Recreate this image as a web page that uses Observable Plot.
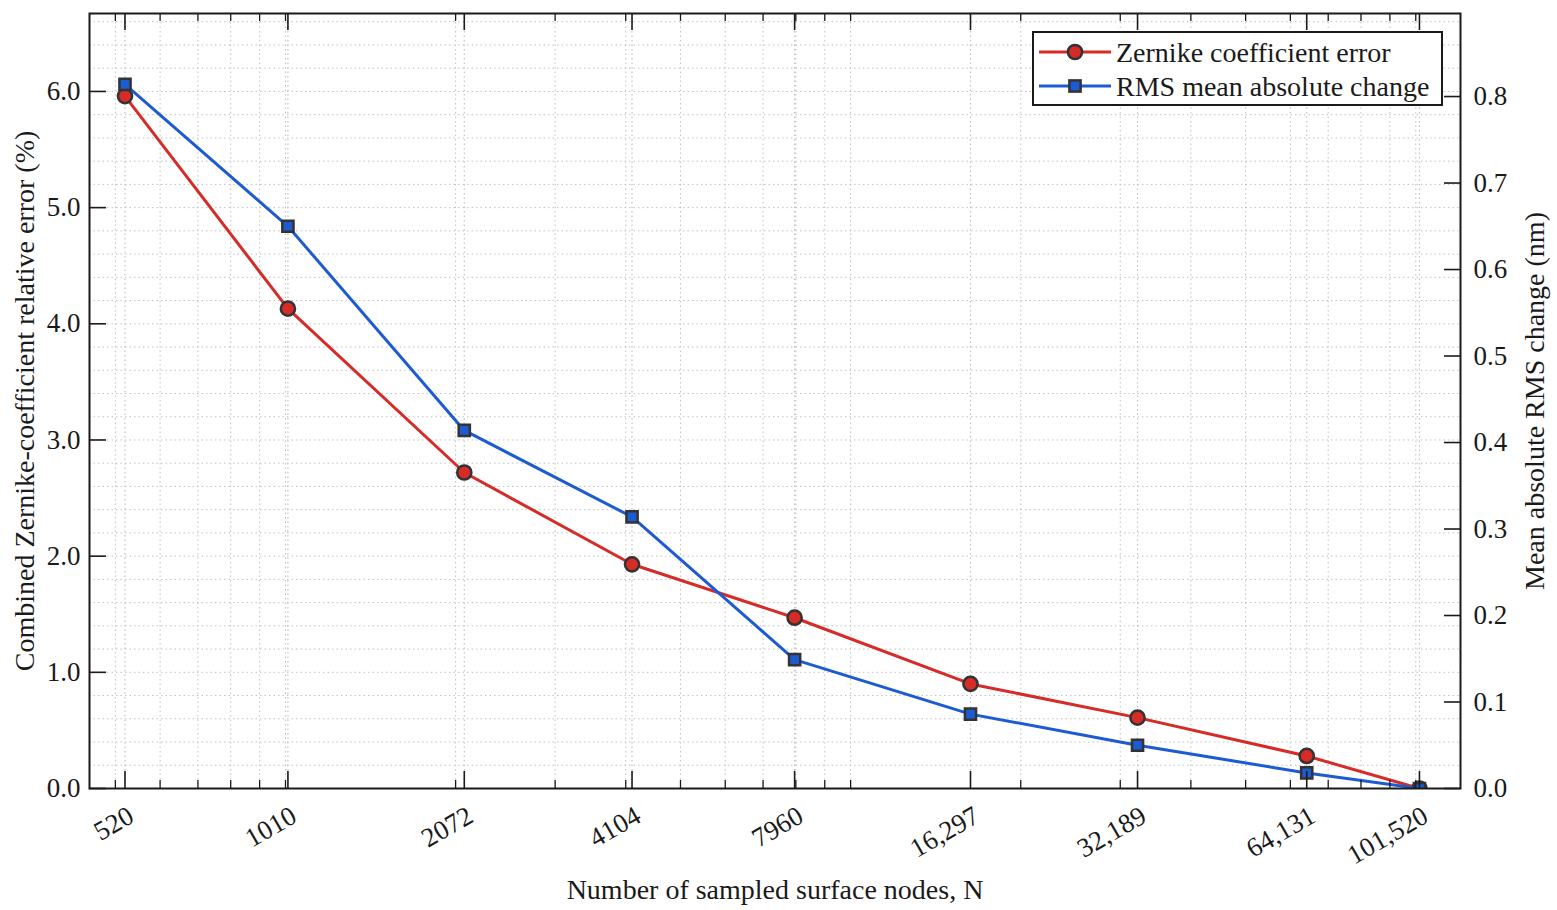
<!DOCTYPE html>
<html>
<head>
<meta charset="utf-8">
<script src="https://cdn.jsdelivr.net/npm/d3@7"></script>
<script src="https://cdn.jsdelivr.net/npm/@observablehq/plot@0.6"></script>
<style>
  html, body { margin: 0; padding: 0; background: #fff; }
  #wrap { position: relative; width: 1557px; height: 910px; font-family: "Liberation Serif", "Times New Roman", serif; }
  #legend { position: absolute; left: 1032px; top: 31px; }
</style>
</head>
<body>
<div id="wrap"></div>
<script>
// ---- data ----
const nodes = [520, 1010, 2072, 4104, 7960, 16297, 32189, 64131, 101520];
const nodeLabels = ["520", "1010", "2072", "4104", "7960", "16,297", "32,189", "64,131", "101,520"];
const zernikeError = [5.96, 4.13, 2.72, 1.93, 1.47, 0.90, 0.61, 0.28, 0.0];
const rmsChange = [0.814, 0.650, 0.414, 0.314, 0.149, 0.086, 0.050, 0.018, 0.0];
const leftTicks = [0, 1, 2, 3, 4, 5, 6];
const rightTicks = [0, 0.1, 0.2, 0.3, 0.4, 0.5, 0.6, 0.7, 0.8];
const leftGrid = [0.2, 0.4, 0.6, 0.8, 1.0, 1.2, 1.4, 1.6, 1.8, 2.0, 2.2, 2.4, 2.6, 2.8, 3.0, 3.2, 3.4, 3.6, 3.8, 4.0, 4.2, 4.4, 4.6, 4.8, 5.0, 5.2, 5.4, 5.6, 5.8, 6.0, 6.2, 6.4, 6.6];
const minorX = [500, 600, 700, 800, 900, 1000, 2000, 3000, 4000, 5000, 6000, 7000, 8000, 9000,
                10000, 20000, 30000, 40000, 50000, 60000, 70000, 80000, 90000, 100000];

const seriesNames = ["Zernike coefficient error", "RMS mean absolute change"];
const xTitle = "Number of sampled surface nodes, N";
const yLeftTitle = "Combined Zernike-coefficient relative error (%)";
const yRightTitle = "Mean absolute RMS change (nm)";

// ---- layout / style ----
const W = 1557, H = 910;
const mL = 89, mR = 97, mT = 13, mB = 122;
const plotW = W - mL - mR, plotH = H - mT - mB;
const leftMax = 6.671, rightMax = 0.896;
const k = leftMax / rightMax;
const RED = "#d62b27", BLUE = "#1c5bd2", EDGE = "#333333", INK = "#1a1a1a";
const GRID = "#c2c2c2";

const rows = nodes.map((n, i) => ({n, label: nodeLabels[i], err: zernikeError[i], rms: rmsChange[i] * k}));

const chart = Plot.plot({
  width: W, height: H,
  marginLeft: mL, marginRight: mR, marginTop: mT, marginBottom: mB,
  style: {fontFamily: '"Liberation Serif", "Times New Roman", serif', fontSize: "27px", color: INK, background: "#fff"},
  x: {type: "log", domain: [450, 120000], axis: null},
  y: {domain: [0, leftMax], axis: null},
  marks: [
    // grid
    Plot.ruleX(minorX, {x: d => d, stroke: GRID, strokeWidth: 1, strokeDasharray: "1.5,3"}),
    Plot.ruleX(nodes, {x: d => d, stroke: GRID, strokeWidth: 1.2, strokeDasharray: "1.5,3"}),
    Plot.ruleY(leftGrid, {y: d => d, stroke: GRID, strokeWidth: 1, strokeDasharray: "1.5,3"}),
    // series
    Plot.line(rows, {x: "n", y: "err", stroke: RED, strokeWidth: 3, clip: true}),
    Plot.dot(rows, {x: "n", y: "err", r: 7.1, symbol: "circle", fill: RED, stroke: EDGE, strokeWidth: 2.5, clip: true}),
    Plot.line(rows, {x: "n", y: "rms", stroke: BLUE, strokeWidth: 3, clip: true}),
    Plot.dot(rows, {x: "n", y: "rms", r: 6.3, symbol: "square", fill: BLUE, stroke: EDGE, strokeWidth: 2.5, clip: true}),
    // inward ticks
    Plot.ruleX(nodes, {x: d => d, insetTop: plotH - 17, stroke: INK, strokeWidth: 1.6}),
    Plot.ruleX(minorX, {x: d => d, insetTop: plotH - 8, stroke: INK, strokeWidth: 1.3}),
    Plot.ruleX(nodes, {x: d => d, insetBottom: plotH - 17, stroke: INK, strokeWidth: 1.6}),
    Plot.ruleX(minorX, {x: d => d, insetBottom: plotH - 8, stroke: INK, strokeWidth: 1.3}),
    Plot.ruleY(leftTicks, {y: d => d, insetRight: plotW - 17, stroke: INK, strokeWidth: 1.6}),
    Plot.ruleY(rightTicks, {y: d => d * k, insetLeft: plotW - 16, stroke: INK, strokeWidth: 1.6}),
    Plot.frame({stroke: INK, strokeWidth: 2}),
    // tick labels
    Plot.text(rows, {x: "n", text: "label", frameAnchor: "bottom", dy: 16, dx: 1, rotate: -30,
      textAnchor: "end", lineAnchor: "top", fontSize: 27, fill: INK}),
    Plot.axisY(leftTicks, {anchor: "left", tickSize: 0, tickPadding: 9, tickFormat: d => d.toFixed(1), label: null, fill: INK}),
    Plot.axisY(rightTicks.map(v => v * k), {anchor: "right", tickSize: 0, tickPadding: 13, tickFormat: d => (d / k).toFixed(1), label: null, fill: INK}),
    // axis titles
    Plot.text([xTitle], {text: d => d, frameAnchor: "bottom", dy: 110, textAnchor: "middle", lineAnchor: "bottom", fontSize: 28, fill: INK}),
    Plot.text([yLeftTitle], {text: d => d, frameAnchor: "left", rotate: -90, dx: -56, textAnchor: "middle", lineAnchor: "bottom", fontSize: 28, fill: INK}),
    Plot.text([yRightTitle], {text: d => d, frameAnchor: "right", rotate: -90, dx: 83, textAnchor: "middle", lineAnchor: "bottom", fontSize: 28, fill: INK})
  ]
});

const wrap = document.getElementById("wrap");
wrap.appendChild(chart);

// ---- legend (overlay inside the plot area) ----
const lg = d3.create("svg").attr("id", "legend").attr("width", 411).attr("height", 75);
lg.append("rect").attr("x", 1).attr("y", 1).attr("width", 409).attr("height", 73)
  .attr("fill", "#fff").attr("stroke", INK).attr("stroke-width", 2);
const entries = [
  {name: seriesNames[0], color: RED, shape: "circle"},
  {name: seriesNames[1], color: BLUE, shape: "square"}
];
entries.forEach((e, i) => {
  const cy = 21 + i * 34;
  lg.append("line").attr("x1", 7).attr("x2", 79).attr("y1", cy).attr("y2", cy)
    .attr("stroke", e.color).attr("stroke-width", 3);
  if (e.shape === "circle") {
    lg.append("circle").attr("cx", 43).attr("cy", cy).attr("r", 7.1)
      .attr("fill", e.color).attr("stroke", EDGE).attr("stroke-width", 2.5);
  } else {
    lg.append("rect").attr("x", 43 - 5.6).attr("y", cy - 5.6).attr("width", 11.2).attr("height", 11.2)
      .attr("fill", e.color).attr("stroke", EDGE).attr("stroke-width", 2.5);
  }
  lg.append("text").attr("x", 84).attr("y", cy).attr("dy", "0.35em")
    .attr("font-family", '"Liberation Serif", "Times New Roman", serif').attr("font-size", 28)
    .attr("fill", INK).text(e.name);
});
wrap.appendChild(lg.node());
</script>
</body>
</html>
